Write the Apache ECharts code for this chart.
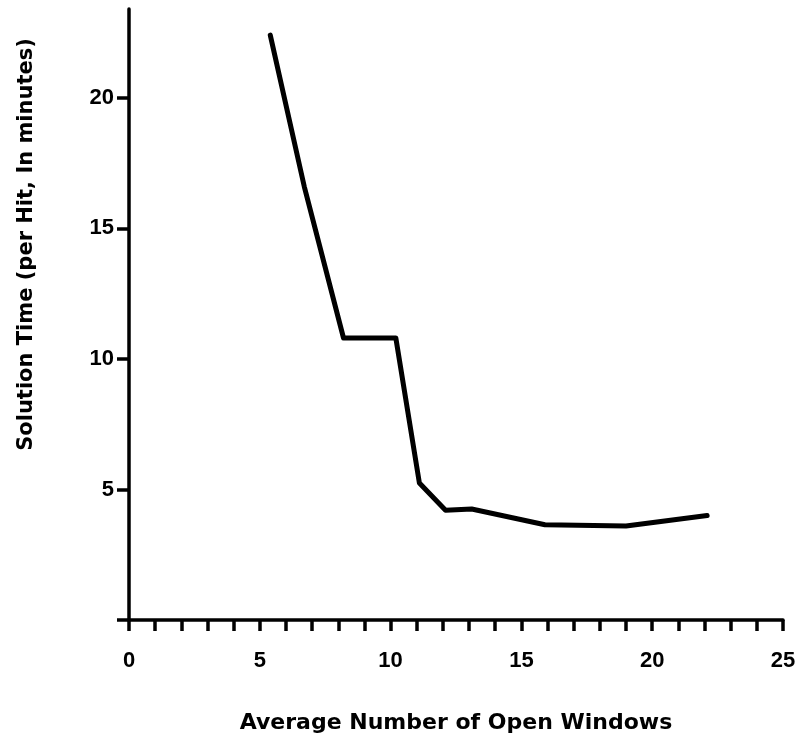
<!DOCTYPE html>
<html>
<head>
<meta charset="utf-8">
<script src="https://cdn.jsdelivr.net/npm/echarts@6/dist/echarts.min.js"></script>
<style>
  html, body { margin: 0; padding: 0; background: #ffffff; }
  #chart { width: 803px; height: 749px; }
</style>
</head>
<body>
<div id="chart"></div>
<script>
// Data
const windowsCount = [5.4, 6.7, 8.2, 10.2, 11.1, 12.1, 13.1, 15.9, 19.0, 22.1];
const solutionTime = [22.4, 16.6, 10.8, 10.8, 5.25, 4.2, 4.25, 3.65, 3.6, 4.0];
const xAxisTitle = 'Average Number of Open Windows';
const yAxisTitle = 'Solution Time (per Hit, In minutes)';

const points = windowsCount.map((x, i) => [x, solutionTime[i]]);
const titleFont = 'DejaVu Sans, Liberation Sans, Arial, sans-serif';
const tickFont = 'Liberation Sans, Arial, sans-serif';

const chart = echarts.init(document.getElementById('chart'));
chart.setOption({
  backgroundColor: '#ffffff',
  animation: false,
  grid: { left: 129, right: 20, top: 9, bottom: 129, containLabel: false },
  xAxis: {
    type: 'value',
    min: 0, max: 25, interval: 1,
    name: xAxisTitle,
    nameLocation: 'middle',
    nameGap: 92,
    nameTextStyle: { fontFamily: titleFont, fontSize: 22, color: '#000', fontWeight: 'bold' },
    axisLine: { show: true, onZero: false, lineStyle: { color: '#000', width: 3.5 } },
    axisTick: { show: true, inside: false, length: 11, lineStyle: { color: '#000', width: 3.5 } },
    axisLabel: {
      margin: 30,
      fontFamily: tickFont, fontSize: 22, fontWeight: 'bold', color: '#000',
      formatter: v => (v % 5 === 0 ? String(v) : '')
    },
    splitLine: { show: false }
  },
  yAxis: {
    type: 'value',
    min: 0, max: 23.4, interval: 5,
    name: yAxisTitle,
    nameLocation: 'middle',
    nameGap: 92,
    nameRotate: 90,
    nameTextStyle: { fontFamily: titleFont, fontSize: 21, color: '#000', fontWeight: 'bold', padding: [0, 0, 0, 140] },
    axisLine: { show: true, onZero: false, lineStyle: { color: '#000', width: 3.5 } },
    axisTick: { show: true, inside: false, length: 12, lineStyle: { color: '#000', width: 3.5 } },
    axisLabel: {
      margin: 15,
      showMaxLabel: false,
      fontFamily: tickFont, fontSize: 22, fontWeight: 'bold', color: '#000',
      formatter: v => (v === 0 ? '' : String(v))
    },
    splitLine: { show: false }
  },
  series: [{
    type: 'line',
    data: points,
    symbol: 'none',
    smooth: false,
    lineStyle: { color: '#000', width: 5, join: 'round', cap: 'round' }
  }]
});
</script>
</body>
</html>
